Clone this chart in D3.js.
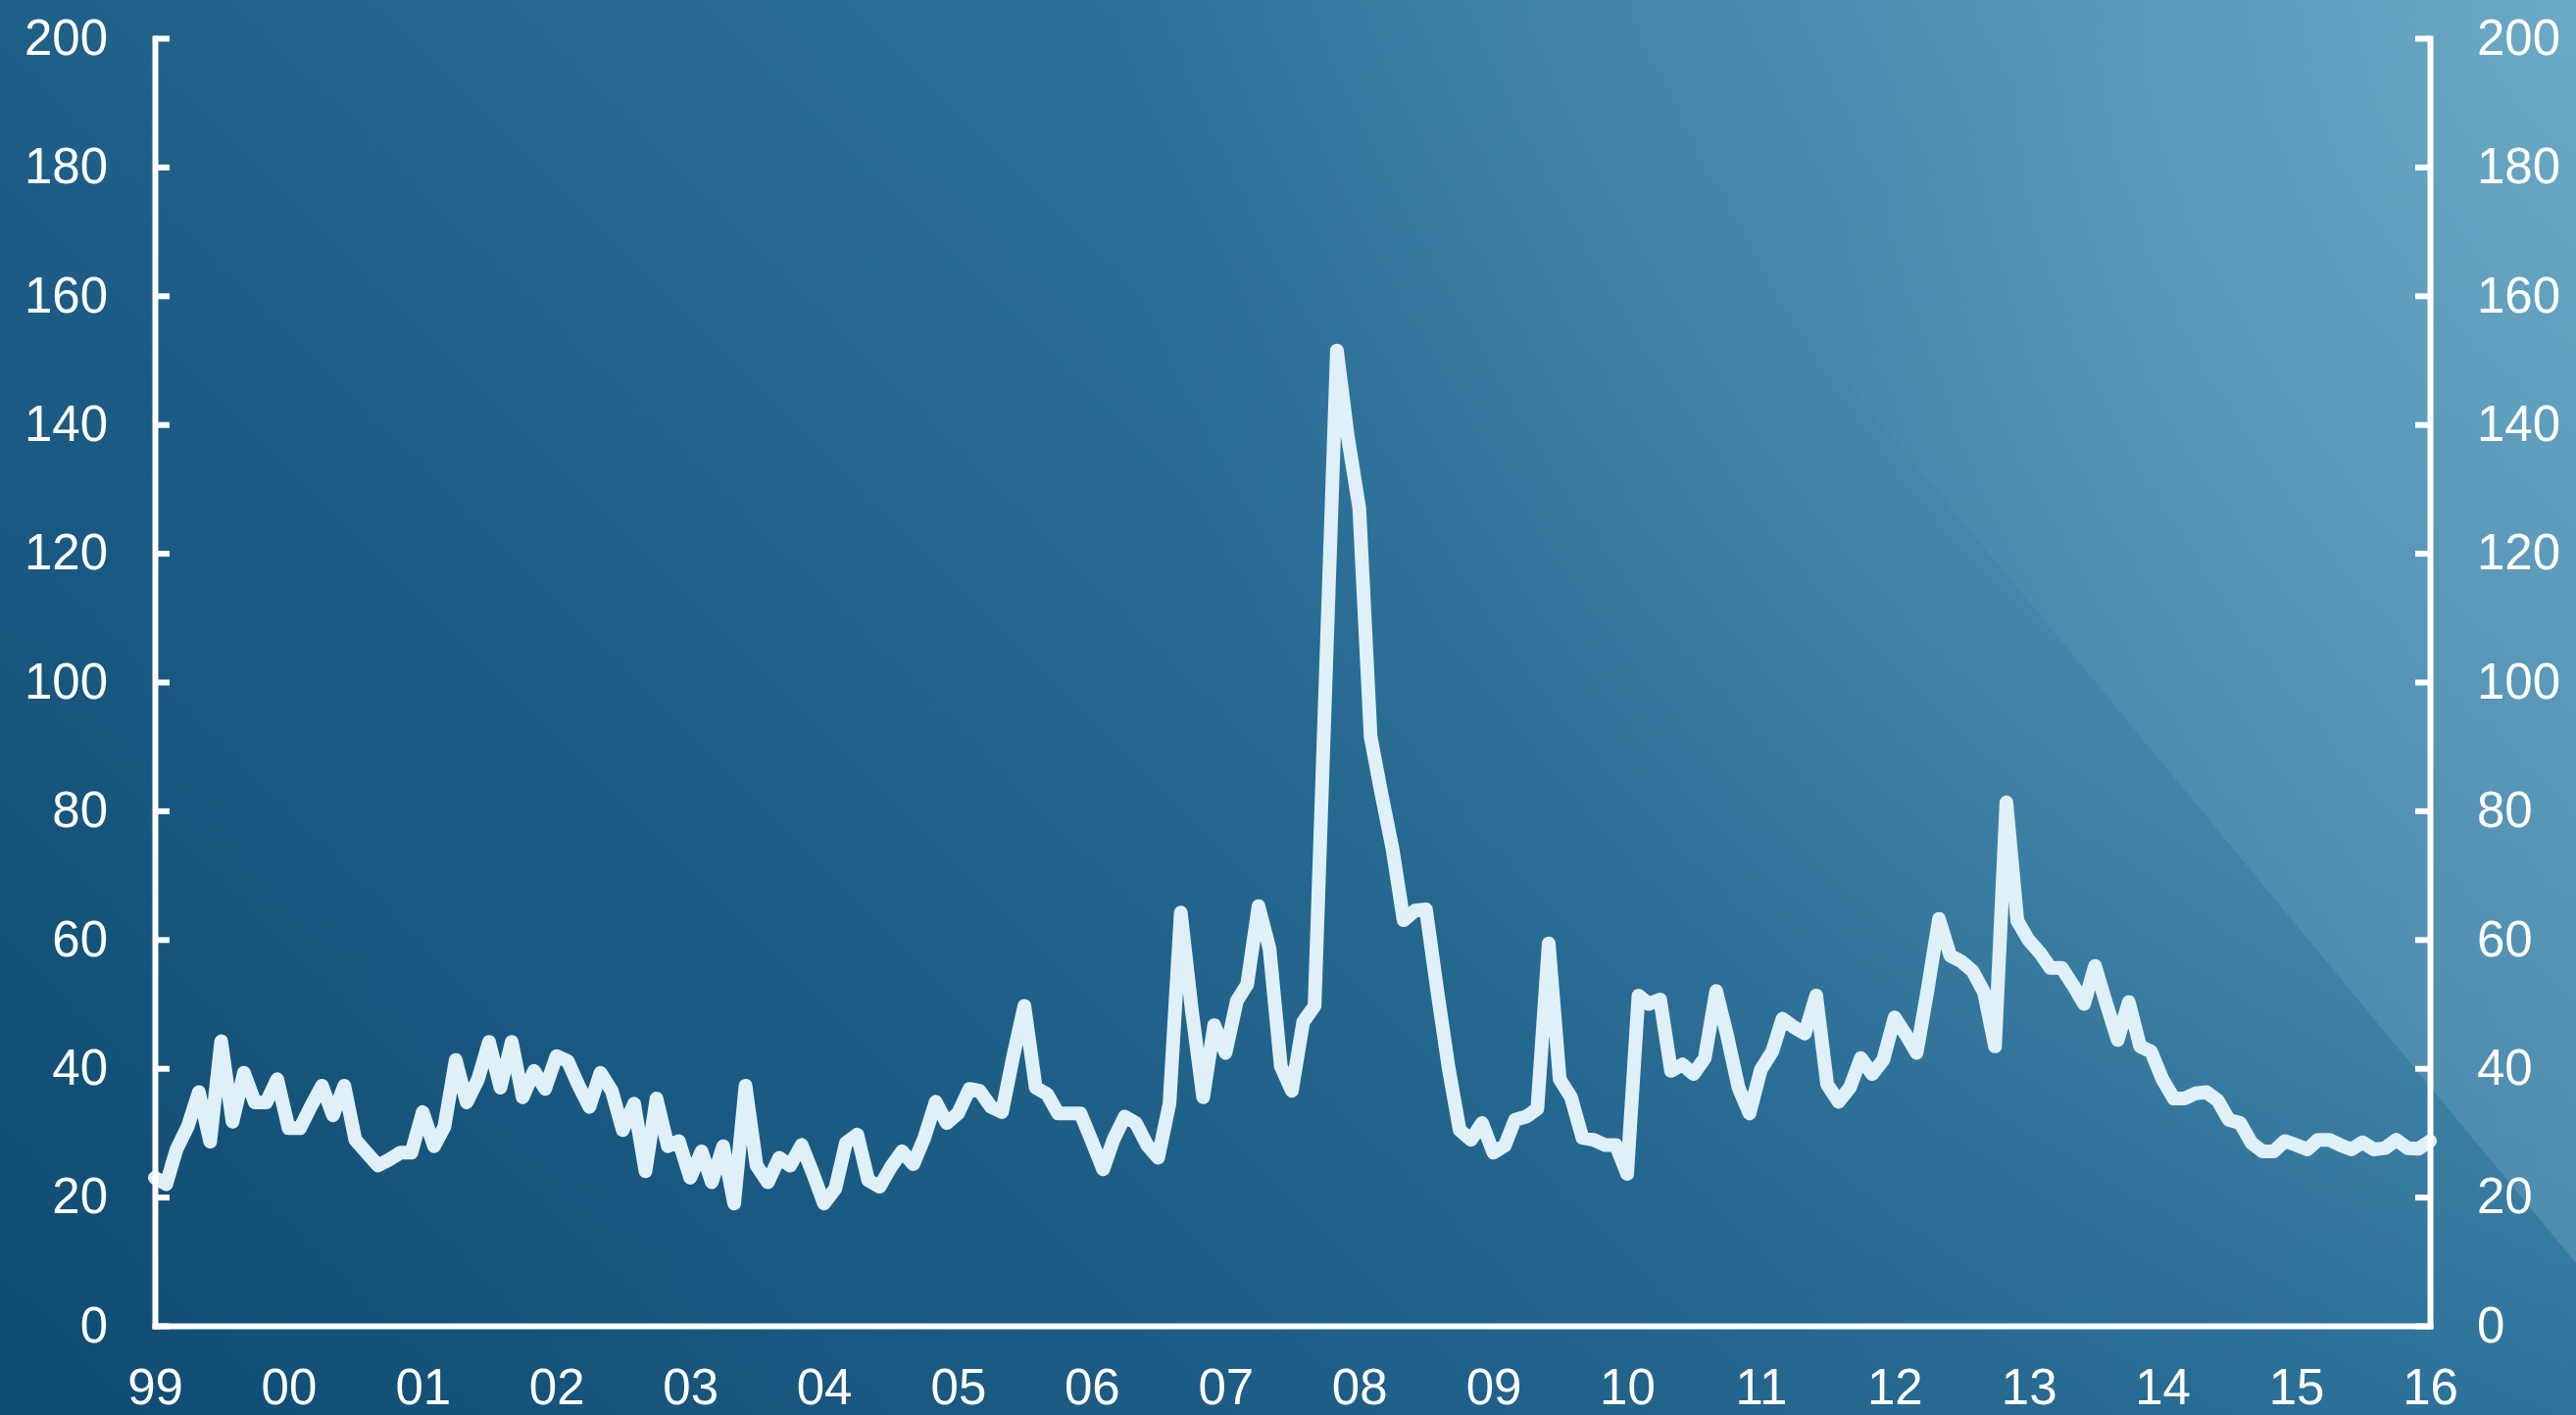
<!DOCTYPE html>
<html>
<head>
<meta charset="utf-8">
<script src="https://cdn.jsdelivr.net/npm/d3@7"></script>
<style>
  html, body { margin: 0; padding: 0; background: #1b5a82; }
  svg { display: block; }
  .axis text { font-family: "Liberation Sans", Arial, sans-serif; font-size: 51px; fill: #ffffff; }
  .axis path, .axis line { stroke: #ffffff; stroke-width: 6px; }
  .axis path { stroke-linecap: square; }
</style>
</head>
<body>
<svg id="chart" width="2628" height="1444"></svg>
<script>
// Monthly series, January 1999 through January 2016
const firstMonth = new Date(1999, 0, 1);
const monthlyValues = [
  // 1999
  23, 22, 27.4, 31, 36.3, 28.6, 44.2, 31.7, 39.3, 34.7, 34.7, 38.3,
  // 2000
  30.7, 30.7, 34, 37.3, 32.7, 37.3, 28.9, 26.9, 24.9, 25.8, 26.9, 26.9,
  // 2001
  33.2, 27.9, 30.9, 41.3, 34.7, 38.3, 44.1, 37, 44.1, 35.5, 39.6, 36.8,
  // 2002
  41.9, 41.1, 37.5, 34, 39.3, 36.5, 30.4, 34.5, 24, 35.3, 27.9, 28.7,
  // 2003
  23, 27.1, 22.3, 27.9, 19, 37.3, 24.9, 22.3, 26.1, 24.9, 28.1, 23.8,
  // 2004
  19, 21.3, 28.4, 29.7, 22.6, 21.6, 24.6, 27.1, 25.1, 29.2, 34.8, 31.5,
  // 2005
  33, 36.8, 36.5, 34, 33.2, 42, 49.7, 37, 36, 33, 33, 33,
  // 2006
  28.7, 24.3, 28.9, 32.5, 31.5, 28.1, 26.1, 34.5, 64.2, 49, 35.5, 46.7,
  // 2007
  42.4, 50.5, 53, 65.2, 58.6, 40.3, 36.5, 47.2, 49.7, 100, 151.5, 138,
  // 2008
  127, 91.5, 82.8, 74, 63, 64.5, 64.7, 52, 40, 30.4, 28.9, 31.5,
  // 2009
  26.9, 28, 32, 32.5, 33.7, 59.4, 38.3, 35.5, 29.2, 28.9, 28.1, 28.1,
  // 2010
  23.6, 51.3, 50, 50.7, 39.6, 40.6, 39.1, 41.6, 52, 45.1, 37, 33,
  // 2011
  39.8, 42.6, 47.7, 46.4, 45.4, 51.3, 37.5, 34.8, 37, 41.6, 39.1, 41.3,
  // 2012
  47.9, 45.2, 42.4, 52.5, 63.2, 57.5, 56.6, 55.1, 51.8, 43.4, 81.3, 62.9,
  // 2013
  59.9, 57.9, 55.6, 55.6, 53, 50, 55.9, 50, 44.4, 50.3, 43.4, 42.6,
  // 2014
  38.3, 35.3, 35.3, 36.1, 36.3, 35, 32, 31.5, 28.4, 27.1, 27.1, 28.7,
  // 2015
  28.1, 27.4, 28.9, 28.9, 28.1, 27.4, 28.5, 27.4, 27.6, 28.9, 27.6, 27.5,
  // 2016
  28.7
];
const yearLabels = ["99", "00", "01", "02", "03", "04", "05", "06", "07", "08",
                    "09", "10", "11", "12", "13", "14", "15", "16"];
const yTicks = [0, 20, 40, 60, 80, 100, 120, 140, 160, 180, 200];

const W = 2628, H = 1444;
const plot = { left: 158, right: 2479, top: 39, bottom: 1353 };

const svg = d3.select("#chart");
const defs = svg.append("defs");

// Background: diagonal blue wash, a soft glow in the top-right corner,
// and a lighter wedge along the right edge that fades out towards the top.
const bg = defs.append("linearGradient")
  .attr("id", "bgGrad").attr("gradientUnits", "userSpaceOnUse")
  .attr("x1", 0).attr("y1", H).attr("x2", 2036).attr("y2", H - 2036);
bg.append("stop").attr("offset", 0).attr("stop-color", "#0f4a72");
bg.append("stop").attr("offset", 0.6).attr("stop-color", "#2a6f97");
bg.append("stop").attr("offset", 1).attr("stop-color", "#3e8db1");

const glow = defs.append("radialGradient")
  .attr("id", "glowGrad").attr("gradientUnits", "userSpaceOnUse")
  .attr("cx", W).attr("cy", 0).attr("r", 1500);
glow.append("stop").attr("offset", 0).attr("stop-color", "#bcd9ea").attr("stop-opacity", 0.34);
glow.append("stop").attr("offset", 1).attr("stop-color", "#bcd9ea").attr("stop-opacity", 0);

const wedge = defs.append("linearGradient")
  .attr("id", "wedgeGrad").attr("gradientUnits", "userSpaceOnUse")
  .attr("x1", 1562).attr("y1", 0).attr("x2", W).attr("y2", 1289);
wedge.append("stop").attr("offset", 0.22).attr("stop-color", "#a5cfe6").attr("stop-opacity", 0);
wedge.append("stop").attr("offset", 1).attr("stop-color", "#a5cfe6").attr("stop-opacity", 0.22);

svg.append("rect").attr("width", W).attr("height", H).attr("fill", "url(#bgGrad)");
svg.append("rect").attr("width", W).attr("height", H).attr("fill", "url(#glowGrad)");
svg.append("path").attr("d", `M1562,0L${W},0L${W},1289Z`).attr("fill", "url(#wedgeGrad)");

// Scales
const series = monthlyValues.map((v, i) => ({ date: d3.timeMonth.offset(firstMonth, i), value: v }));
const x = d3.scaleTime()
  .domain([firstMonth, series[series.length - 1].date])
  .range([plot.left, plot.right]);
const y = d3.scaleLinear().domain([0, 200]).range([plot.bottom, plot.top]);

// Series line
const line = d3.line().x(d => x(d.date)).y(d => y(d.value));
svg.append("path")
  .datum(series)
  .attr("d", line)
  .attr("fill", "none")
  .attr("stroke", "#dff0f8")
  .attr("stroke-width", 14)
  .attr("stroke-linejoin", "round")
  .attr("stroke-linecap", "round");

// Axes
const yearDates = yearLabels.map((_, i) => new Date(1999 + i, 0, 1));

svg.append("g").attr("class", "axis")
  .attr("transform", `translate(${plot.left},0)`)
  .call(d3.axisLeft(y).tickValues(yTicks).tickSize(-15).tickSizeOuter(0).tickPadding(48));

svg.append("g").attr("class", "axis")
  .attr("transform", `translate(${plot.right},0)`)
  .call(d3.axisRight(y).tickValues(yTicks).tickSize(-15).tickSizeOuter(0).tickPadding(48));

svg.append("g").attr("class", "axis")
  .attr("transform", `translate(0,${plot.bottom})`)
  .call(d3.axisBottom(x).tickValues(yearDates).tickSize(0).tickSizeOuter(0).tickPadding(44)
    .tickFormat((d, i) => yearLabels[i]));
</script>
</body>
</html>
